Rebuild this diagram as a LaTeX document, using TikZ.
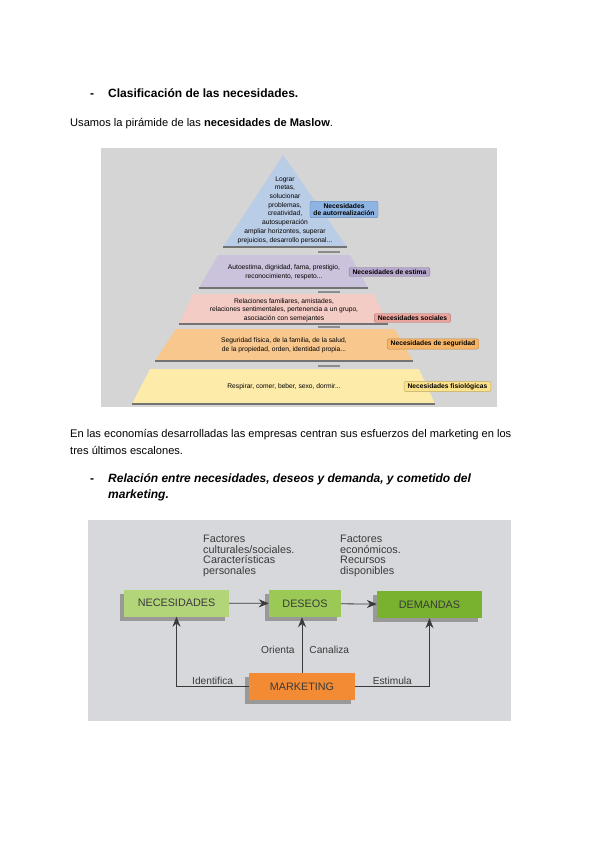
\documentclass[tikz,border=0pt]{standalone}
\usepackage{fontspec}
\setmainfont{Liberation Sans}
\usetikzlibrary{shapes,arrows.meta,positioning,calc,shadows}
\definecolor{pyrgray}{HTML}{D5D5D5}
\definecolor{scangray}{HTML}{D6D8DC}
\definecolor{autoblue}{HTML}{BACDE6}
\definecolor{autotag}{HTML}{8EB4E3}
\definecolor{estimalila}{HTML}{CBC2DC}
\definecolor{estimatag}{HTML}{B6A8CC}
\definecolor{socialpink}{HTML}{F4CCC6}
\definecolor{socialtag}{HTML}{EBA39B}
\definecolor{segorange}{HTML}{F8C78E}
\definecolor{segtag}{HTML}{F6B467}
\definecolor{fisioyellow}{HTML}{FDEBAA}
\definecolor{fisiotag}{HTML}{FCE28A}
\definecolor{necgreen}{HTML}{B3D57A}
\definecolor{desgreen}{HTML}{9BC955}
\definecolor{demgreen}{HTML}{79B22F}
\definecolor{mktorange}{HTML}{F28B34}
\definecolor{scantext}{HTML}{3A3A3A}

\begin{document}
\begin{tikzpicture}[x=1pt,y=-1pt,
  bodytext/.style={anchor=base west, inner sep=0pt, font=\fontsize{11.1}{13}\selectfont},
  headtext/.style={bodytext, font=\fontsize{12}{14}\selectfont\bfseries},
  pyredge/.style={draw=black!55, line width=1.2pt},
  pyrtext/.style={inner sep=0pt, align=center, font=\fontsize{6.7}{8.7}\selectfont},
  tagbox/.style={fill=#1, draw=#1!75!black, rounded corners=2pt, inner xsep=3.5pt, inner ysep=2pt, align=center, font=\fontsize{6.7}{7.6}\selectfont\bfseries},
  flowbox/.style={fill=#1, text=scantext, minimum height=27pt, font=\fontsize{10.8}{12}\selectfont, drop shadow={shadow xshift=-4pt, shadow yshift=-4pt, fill=black!40, opacity=1}},
  flowline/.style={draw=scantext, line width=0.8pt, -{Stealth[length=10pt,width=8pt]}},
  flowlabel/.style={text=scantext, font=\fontsize{10.2}{11}\selectfont, inner sep=2pt}]

\fill[white] (0,0) rectangle (600,848);
\useasboundingbox (0,0) rectangle (600,848);

% primer apartado
\node[headtext] (dash1) at (90,98) {-};
\node[headtext] (head1) at (108,98) {Clasificación de las necesidades.};
\node[bodytext] (intro) at (70,127) {Usamos la pirámide de las \textbf{necesidades de Maslow}.};

% piramide de Maslow
\fill[pyrgray] (101,148) rectangle (497,407);
\fill[autoblue] (283,155) -- (347,247) -- (223,247) -- cycle;
\draw[pyredge] (223,247) -- (347,247);
\fill[estimalila] (218,255) -- (350,255) -- (368,288) -- (199,288) -- cycle;
\draw[pyredge] (199,288) -- (368,288);
\fill[socialpink] (193,294) -- (374,294) -- (388,324) -- (179,324) -- cycle;
\draw[pyredge] (179,324) -- (388,324);
\fill[segorange] (176,329) -- (395,329) -- (413,361) -- (155,361) -- cycle;
\draw[pyredge] (155,361) -- (413,361);
\fill[fisioyellow] (150,369) -- (419,369) -- (435,404) -- (132,404) -- cycle;
\draw[pyredge] (132,404) -- (435,404);
\foreach \yy in {252,292,327,366}
  \fill[black!45] (318,\yy-1) rectangle (340,\yy+1);

\node[pyrtext] (autotxt) at (285,210) {Lograr\\metas,\\solucionar\\problemas,\\creatividad,\\autosuperación\\ampliar horizontes, superar\\prejuicios, desarrollo personal...};
\node[pyrtext] (estimatxt) at (284,272) {Autoestima, dignidad, fama, prestigio,\\reconocimiento, respeto...};
\node[pyrtext] (socialtxt) at (284,310) {Relaciones familiares, amistades,\\relaciones sentimentales, pertenencia a un grupo,\\asociación con semejantes};
\node[pyrtext] (segtxt) at (284,345) {Seguridad física, de la familia, de la salud,\\de la propiedad, orden, identidad propia...};
\node[pyrtext] (fisiotxt) at (284,387) {Respirar, comer, beber, sexo, dormir...};

\node[tagbox=autotag] (autotag) at (344,209.5) {Necesidades\\de autorrealización};
\node[tagbox=estimatag] (estimatag) at (389.5,272) {Necesidades de estima};
\node[tagbox=socialtag] (socialtag) at (412.5,318) {Necesidades sociales};
\node[tagbox=segtag] (segtag) at (433,344) {Necesidades de seguridad};
\node[tagbox=fisiotag] (fisiotag) at (447.5,386.5) {Necesidades fisiológicas};

% texto intermedio
\node[bodytext] (para1) at (70,437) {En las economías desarrolladas las empresas centran sus esfuerzos del marketing en los};
\node[bodytext] (para2) at (70,454) {tres últimos escalones.};

% segundo apartado
\node[headtext] (dash2) at (90,482) {-};
\node[headtext, font=\fontsize{12}{14}\selectfont\bfseries\itshape] (head2a) at (108,482) {Relación entre necesidades, deseos y demanda, y cometido del};
\node[headtext, font=\fontsize{12}{14}\selectfont\bfseries\itshape] (head2b) at (108,498) {marketing.};

% esquema necesidades - deseos - demandas
\fill[scangray] (88,520) rectangle (511,721);
\node[flowlabel, anchor=north west, align=left, inner sep=0pt, font=\fontsize{10.8}{10.5}\selectfont] (factsoc) at (203,535) {Factores\\culturales/sociales.\\Características\\personales};
\node[flowlabel, anchor=north west, align=left, inner sep=0pt, font=\fontsize{10.8}{10.5}\selectfont] (facteco) at (340,535) {Factores\\económicos.\\Recursos\\disponibles};

\node[flowbox=necgreen, minimum width=105pt] (nec) at (176.5,603) {NECESIDADES};
\node[flowbox=desgreen, minimum width=72pt] (des) at (305,603.5) {DESEOS};
\node[flowbox=demgreen, minimum width=105pt] (dem) at (429.5,604.5) {DEMANDAS};
\node[flowbox=mktorange, minimum width=106pt] (mkt) at (302,686.5) {MARKETING};

\draw[flowline] (nec) -- (des);
\draw[flowline] (des) -- (dem);
\draw[flowline] (mkt.west) -| node[flowlabel, pos=0.25, above] {Identifica} (nec.south);
\draw[flowline] (mkt.north) -- node[flowlabel, pos=0.42, left, xshift=-5pt] {Orienta} node[flowlabel, pos=0.42, right, xshift=5pt] {Canaliza} (mkt.north |- des.south);
\draw[flowline] (mkt.east) -| node[flowlabel, pos=0.25, above] {Estimula} (dem.south);
\end{tikzpicture}
\end{document}
